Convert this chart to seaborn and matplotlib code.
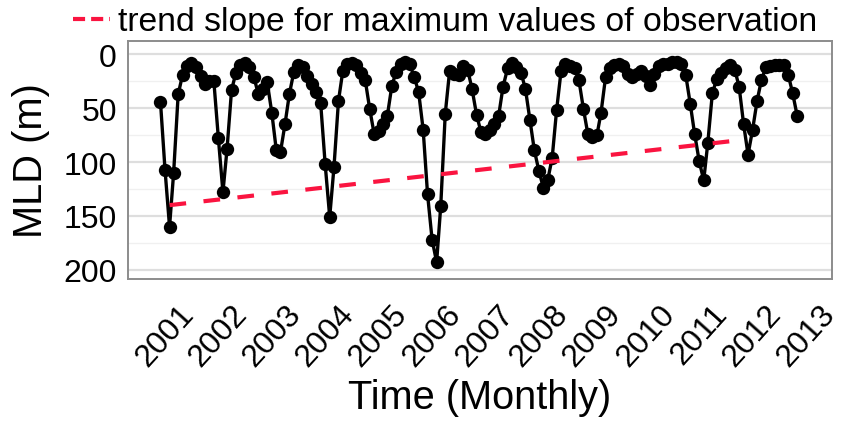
import matplotlib
matplotlib.use("Agg")
import matplotlib.pyplot as plt
from matplotlib.lines import Line2D
from matplotlib.ticker import MultipleLocator
import numpy as np
import pandas as pd
import seaborn as sns

# Monthly mixed layer depth (m), Dec 2000 - Nov 2012
months = pd.date_range("2000-12-01", periods=144, freq="MS")
mld = [
    44, 107, 160, 110, 37, 19, 11, 8, 12, 20, 27, 25,
    25, 78, 128, 88, 33, 17, 10, 8, 12, 21, 37, 32,
    26, 54, 89, 91, 65, 37, 16, 10, 12, 20, 27, 35,
    45, 102, 151, 105, 43, 15, 9, 8, 10, 17, 24, 51,
    74, 71, 65, 57, 29, 16, 9, 7, 9, 21, 35, 70,
    130, 172, 193, 141, 55, 15, 18, 19, 11, 14, 32, 56,
    72, 74, 70, 65, 57, 30, 13, 8, 12, 17, 32, 61,
    89, 108, 124, 117, 96, 52, 15, 9, 11, 13, 24, 51,
    74, 77, 75, 54, 21, 13, 10, 9, 11, 18, 21, 18,
    15, 20, 28, 18, 11, 9, 9, 7, 7, 9, 19, 46,
    74, 99, 117, 82, 36, 23, 17, 13, 10, 14, 30, 65,
    93, 70, 43, 24, 12, 11, 10, 10, 10, 19, 36, 57,
]

# Trend through the yearly maximum depths
trend_dates = pd.to_datetime(["2001-02-01", "2011-08-10"])
trend_values = [140, 80.5]
trend_label = "trend slope for maximum values of observation"

year_ticks = list(range(2001, 2014))
y_ticks = [0, 50, 100, 150, 200]

df = pd.DataFrame({"date": months, "mld": mld})
trend_df = pd.DataFrame({"date": trend_dates, "mld": trend_values})

sns.set_style("white")
plt.rcParams["font.family"] = ["Liberation Sans", "DejaVu Sans"]
plt.rcParams["text.color"] = "black"
plt.rcParams["axes.labelcolor"] = "black"

RED = "#fa1440"

fig = plt.figure(figsize=(8.42, 4.27), dpi=100)
ax = fig.add_axes([128 / 842, 1 - 280 / 427, (832 - 128) / 842, (280 - 42) / 427])

sns.lineplot(data=df, x="date", y="mld", color="black", lw=2.4,
             marker="o", markersize=9.6, markeredgewidth=0,
             errorbar=None, ax=ax, zorder=3)
sns.lineplot(data=trend_df, x="date", y="mld", color=RED, lw=3.0,
             linestyle=(0, (4.0, 4.2)), errorbar=None, ax=ax, zorder=4)

ax.set_xlim(pd.Timestamp("2000-04-23"), pd.Timestamp("2013-06-27"))
ax.set_ylim(208.6, -12.5)

ax.set_xticks(pd.to_datetime([f"{y}-01-01" for y in year_ticks]))
ax.set_xticklabels([str(y) for y in year_ticks], rotation=48, ha="center",
                   fontsize=23)
ax.set_yticks(y_ticks)
ax.set_yticklabels([str(v) for v in y_ticks], fontsize=23)
ax.yaxis.set_minor_locator(MultipleLocator(25))

ax.grid(False)
ax.yaxis.grid(True, which="major", color="#dedede", lw=1.6, zorder=0)
ax.yaxis.grid(True, which="minor", color="#f0f0f0", lw=1.0, zorder=0)
ax.set_axisbelow(True)

ax.tick_params(axis="both", which="major", length=5, width=1.2,
               color="#333333", labelcolor="black")
ax.tick_params(axis="x", which="major", pad=9)
ax.tick_params(axis="y", which="major", pad=3)
ax.tick_params(which="minor", length=0)

for side in ax.spines.values():
    side.set_color("#8c8c8c")
    side.set_linewidth(1.4)

ax.set_xlabel("Time (Monthly)", fontsize=28.6, labelpad=5)
ax.set_ylabel("MLD (m)", fontsize=28.7, labelpad=10)

key = Line2D([], [], color=RED, lw=3.0, dashes=(2.9, 1.45))
fig.legend(handles=[key], labels=[trend_label], loc="center left",
           bbox_to_anchor=(73 / 842, 1 - 23 / 427), frameon=False,
           fontsize=24.3, handlelength=1.1, handletextpad=0.24,
           borderpad=0, borderaxespad=0)

fig.savefig("out.png", dpi=100)
